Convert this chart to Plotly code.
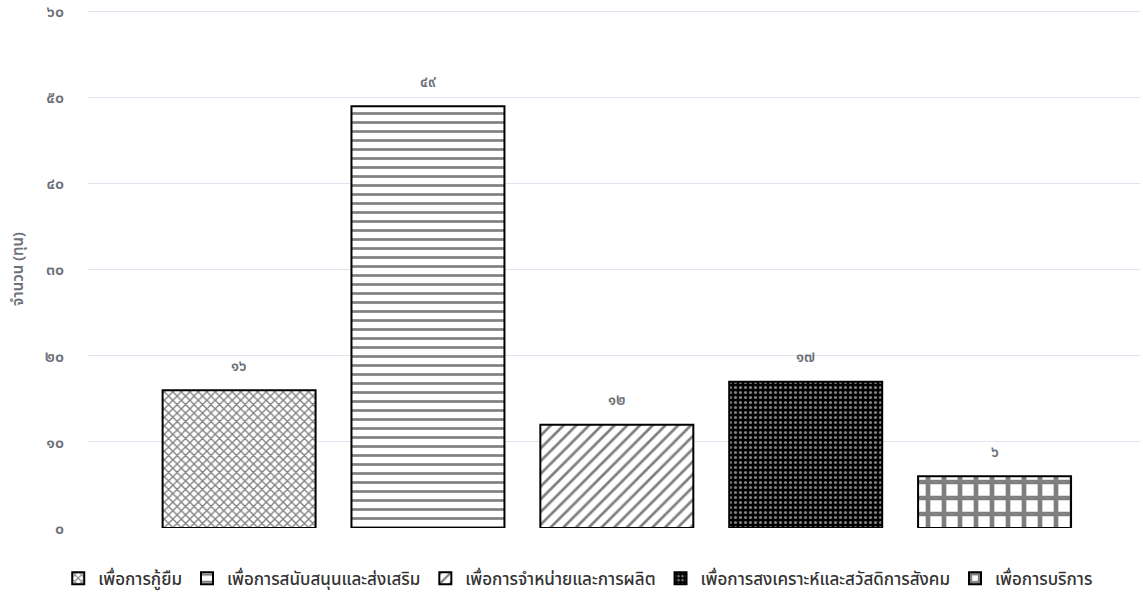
import plotly.graph_objects as go

categories = ["เพื่อการกู้ยืม", "เพื่อการสนับสนุนและส่งเสริม", "เพื่อการจำหน่ายและการผลิต",
              "เพื่อการสงเคราะห์และสวัสดิการสังคม", "เพื่อการบริการ"]
values = [16, 49, 12, 17, 6]
value_labels = ["๑๖", "๔๙", "๑๒", "๑๗", "๖"]
tick_vals = [0, 10, 20, 30, 40, 50, 60]
tick_text = ["๐", "๑๐", "๒๐", "๓๐", "๔๐", "๕๐", "๖๐"]

patterns = [
    dict(shape="x", size=6, solidity=0.4, fgcolor="black", bgcolor="white"),
    dict(shape="-", size=9, solidity=0.3, fgcolor="black", bgcolor="white"),
    dict(shape="/", size=9, solidity=0.3, fgcolor="black", bgcolor="white"),
    dict(shape=".", size=5, solidity=0.3, fgcolor="white", bgcolor="black"),
    dict(shape="+", size=16, solidity=0.5, fgcolor="black", bgcolor="white"),
]

FONT = "Noto Sans Thai, Sarabun, Tahoma, Noto Sans, sans-serif"

fig = go.Figure()
for i, (c, v) in enumerate(zip(categories, values)):
    fig.add_trace(go.Bar(
        x=[c], y=[v], name=c, width=0.81,
        marker=dict(color="white", line=dict(color="black", width=2), pattern=patterns[i]),
    ))

for c, v, t in zip(categories, values, value_labels):
    fig.add_annotation(x=c, y=v, text=t, showarrow=False, yshift=24,
                       font=dict(size=15, color="#6e7079", family=FONT, weight=600))

fig.update_layout(
    width=1143, height=594,
    margin=dict(l=88, r=3, t=10, b=66, autoexpand=False),
    plot_bgcolor="white", paper_bgcolor="white",
    barmode="overlay",
    font=dict(family=FONT, color="#6e7079"),
    showlegend=True,
    legend=dict(orientation="h", x=0.466, xanchor="center", y=-0.063, yanchor="top",
                font=dict(size=17, color="#333333", weight=500), itemwidth=30, tracegroupgap=0),
    xaxis=dict(showticklabels=False, showgrid=False, zeroline=False, showline=False,
               range=[-0.80, 4.77], categoryorder="array", categoryarray=categories),
    yaxis=dict(range=[0, 60.2], tickvals=tick_vals, ticktext=tick_text, automargin=False,
               gridcolor="#e0e6f1", gridwidth=1, zeroline=False, showline=False,
               tickfont=dict(size=16, color="#6e7079", weight=600), ticklabelstandoff=23,
               title=dict(text="จำนวน (ทุน)", font=dict(size=15, color="#6e7079", weight=600), standoff=17)),
)

fig.write_html("out.html", config={"displayModeBar": False},
               post_script="document.body.style.margin='0';")
